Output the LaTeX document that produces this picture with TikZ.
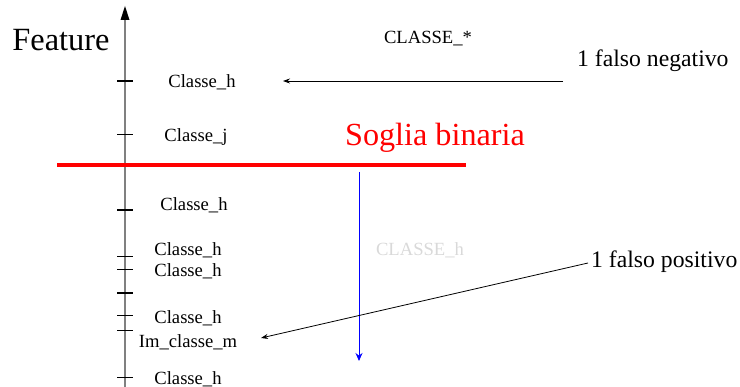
\documentclass[tikz,border=0pt]{standalone}
\usepackage{fontspec}
\setmainfont{Liberation Serif}
\usetikzlibrary{arrows.meta}
\begin{document}
\begin{tikzpicture}[x=1pt,y=-1pt,
  lbl/.style={inner sep=0pt,font=\fontsize{18.6}{18.6}\selectfont},
  big/.style={inner sep=0pt,font=\fontsize{23.7}{24}\selectfont},
  thintick/.style={line width=0.9pt},
  thicktick/.style={line width=2pt},
  arr/.style={-{Stealth[length=7pt,width=5pt]},line width=0.8pt}]
\useasboundingbox (0,0) rectangle (740,387);
% axis
\coordinate (ab) at (125,387);
\coordinate (at) at (125,7);
\draw[gray,line width=2pt] (ab) -- (125,18);
\fill[black] (125,6) -- (120.5,20) -- (129.5,20) -- cycle;
% ticks
\foreach \y in {81,210,293} \draw[thicktick] (117,\y) -- (133,\y);
\foreach \y in {134,256,269,315,330,377} \draw[thintick] (117,\y) -- (133,\y);
% labels
\node[font=\fontsize{32.4}{32}\selectfont,inner sep=0pt] (feat) at (61,40) {Feature};
\node[lbl] (c1) at (202,82) {Classe\_h};
\node[lbl] (c2) at (196,137) {Classe\_j};
\node[lbl] (c3) at (194,205) {Classe\_h};
\node[lbl] (c4) at (188,250) {Classe\_h};
\node[lbl] (c5) at (188,271) {Classe\_h};
\node[lbl] (c6) at (188,318) {Classe\_h};
\node[lbl] (im) at (188,342) {Im\_classe\_m};
\node[lbl] (c7) at (188,379) {Classe\_h};
\node[lbl] (cs) at (428,39) {CLASSE\_*};
\node[lbl,text=black!15] (ch) at (420,250) {CLASSE\_h};
\node[inner sep=0pt,text=red,font=\fontsize{32.2}{32}\selectfont] (sb) at (435,138) {Soglia binaria};
\node[big,anchor=west] (fn) at (577,61) {1 falso negativo};
\node[big,anchor=west] (fp) at (591,262) {1 falso positivo};
% threshold line
\coordinate (r1) at (57,165);
\coordinate (r2) at (466,165);
\draw[red,line width=4.5pt] (r1) -- (r2);
% blue arrow
\coordinate (b1) at (359,172);
\coordinate (b2) at (359,361);
\draw[blue,-{Stealth[length=8pt,width=7pt]},line width=1pt] (b1) -- (b2);
% black arrows
\coordinate (n1) at (563,81);
\coordinate (n2) at (283,81);
\draw[arr] (n1) -- (n2);
\coordinate (p2) at (261,338);
\draw[arr] (fp.west) ++(-3,1) coordinate (p1) -- (p2);
\end{tikzpicture}
\end{document}
